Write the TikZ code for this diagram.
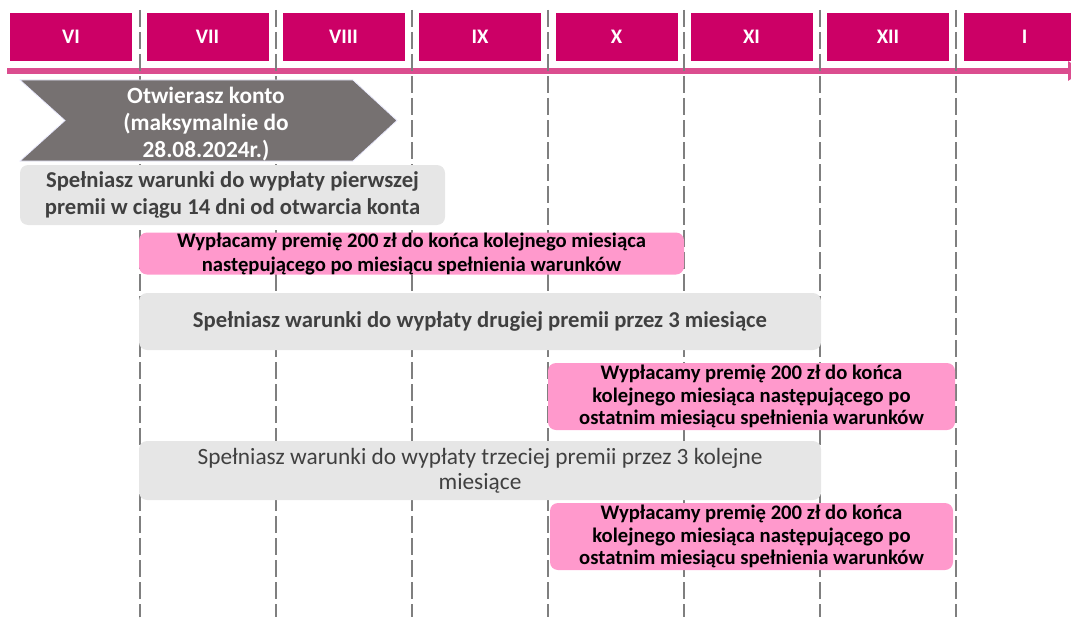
\documentclass[tikz,border=0pt]{standalone}
\usepackage{fontspec}
\setmainfont{Carlito}
\usepackage{xcolor}
\usetikzlibrary{arrows.meta}
\definecolor{monthred}{HTML}{CC0066}
\definecolor{linepink}{HTML}{DB4D8F}
\definecolor{boxpink}{HTML}{FF99CC}
\definecolor{boxgray}{HTML}{E6E6E6}
\definecolor{arrowgray}{HTML}{767171}
\definecolor{textgray}{HTML}{404040}
\definecolor{gridgray}{HTML}{7F7F7F}

\begin{document}
\begin{tikzpicture}[x=0.75pt,y=-0.75pt]
  \tikzstyle{month}=[fill=monthred,text=white,minimum width=91.5pt,minimum height=36pt,inner sep=0pt,
                     font=\bfseries\fontsize{15.5}{18}\selectfont]
  \tikzstyle{grid}=[gridgray,line width=1.2pt,dash pattern=on 13pt off 3.5pt]
  \tikzstyle{graybox}=[fill=boxgray,text=textgray,rounded corners=6pt,align=center,inner sep=0pt,
                       font=\bfseries\fontsize{17}{20.5}\selectfont]
  \tikzstyle{pinkbox}=[fill=boxpink,text=black,rounded corners=6pt,align=center,inner sep=0pt,
                       font=\bfseries\fontsize{15.5}{17}\selectfont]
  \useasboundingbox (0,0) rectangle (1071,617);

  % months
  \foreach \name/\x/\text in {m-6/71/VI, m-7/207.5/VII, m-8/343.5/VIII, m-9/480/IX,
                              m-10/616.5/X, m-11/751.5/XI, m-12/888/XII, m-1/1024.5/I}
    \node[month] (\name) at (\x,37) {\text};

  % timeline
  \coordinate (tl-start) at (7,71);
  \coordinate (tl-end) at (1084,71);
  \draw[linepink,line width=4.5pt,-{Triangle[length=12pt,width=14pt]}] (tl-start) -- (tl-end);
  \foreach \x in {140,276,412,548,684,820,956}
    \draw[grid] (\x,10) -- (\x,617);

  % open account
  \fill[arrowgray,draw=blue!8,line width=0.6pt] (20,80) -- (353,80) -- (397,120.5) -- (353,161)
    -- (20,161) -- (65,120.5) -- cycle;
  \node[text=white,align=center,font=\bfseries\fontsize{17.5}{20.5}\selectfont] (open) at (206,124)
    {Otwierasz konto\\(maksymalnie do\\28.08.2024r.)};

  % conditions and payments
  \node[graybox,minimum width=318.75pt,minimum height=45pt] (cond-1) at (232.5,195)
    {Spełniasz warunki do wypłaty pierwszej\\premii w ciągu 14 dni od otwarcia konta};
  \node[pinkbox,minimum width=408.75pt,minimum height=31.5pt,font=\bfseries\fontsize{15.5}{18}\selectfont]
    (pay-1) at (411.5,253.5)
    {Wypłacamy premię 200 zł do końca kolejnego miesiąca\\następującego po miesiącu spełnienia warunków};
  \node[graybox,minimum width=511.5pt,minimum height=42.75pt] (cond-2) at (480,321.5)
    {Spełniasz warunki do wypłaty drugiej premii przez 3 miesiące};
  \node[pinkbox,minimum width=305.25pt,minimum height=50.25pt] (pay-2) at (751.5,396.5)
    {Wypłacamy premię 200 zł do końca\\kolejnego miesiąca następującego po\\ostatnim miesiącu spełnienia warunków};
  \node[graybox,minimum width=511.5pt,minimum height=44.25pt,font=\fontsize{17.5}{19}\selectfont]
    (cond-3) at (480,470.5)
    {Spełniasz warunki do wypłaty trzeciej premii przez 3 kolejne\\miesiące};
  \node[pinkbox,minimum width=302.25pt,minimum height=50.25pt] (pay-3) at (751.5,536.5)
    {Wypłacamy premię 200 zł do końca\\kolejnego miesiąca następującego po\\ostatnim miesiącu spełnienia warunków};
\end{tikzpicture}
\end{document}
